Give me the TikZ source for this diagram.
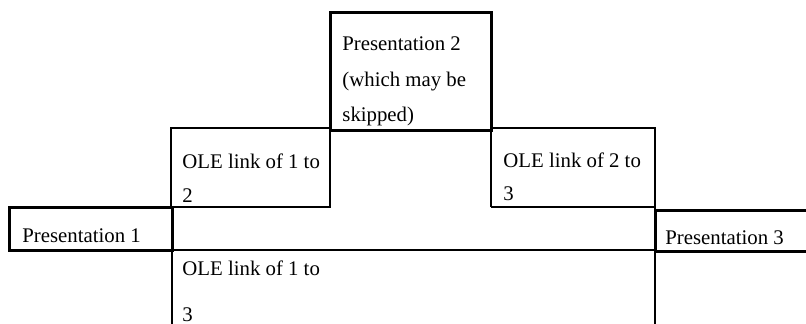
\documentclass[tikz,border=0pt]{standalone}
\usepackage{fontspec}
\setmainfont{Liberation Serif}
\begin{document}
\begin{tikzpicture}[x=0.5pt,y=-0.5pt,
  thickbox/.style={draw=black,line width=1.5pt,rectangle,inner sep=0pt,outer sep=0pt,anchor=north west},
  thinline/.style={draw=black,line width=0.55pt},
  lbl/.style={anchor=base west,inner sep=0pt,font=\fontsize{10.4}{12}\selectfont}]
\useasboundingbox[fill=white] (0,0) rectangle (806,323);
\clip (0,0) rectangle (806,323);
% thin table lines
\coordinate (a1) at (171,128);
\coordinate (a2) at (330,128);
\coordinate (a3) at (171,207);
\coordinate (a4) at (330,207);
\coordinate (b1) at (491,128);
\coordinate (b2) at (655,128);
\coordinate (b3) at (491,207);
\coordinate (b4) at (655,207);
\coordinate (c1) at (172,250);
\coordinate (c2) at (655,250);
\coordinate (c3) at (172,340);
\coordinate (c4) at (655,340);
\draw[thinline] (a2) -- (a1) -- (a3) -- (a4) -- (a2);
\draw[thinline] (b3) -- (b1) -- (b2) -- (b4) -- (b3);
\draw[thinline] (b4) -- (c2);
\draw[thinline] (c3) -- (c1) -- (c2) -- (c4);
% thick boxes
\node[thickbox,minimum width=80.5pt,minimum height=59pt] (p2) at (330,12) {};
\node[thickbox,minimum width=81.5pt,minimum height=21.5pt] (p1) at (9,207) {};
\node[thickbox,minimum width=85pt,minimum height=20.5pt] (p3) at (655,210) {};
% texts
\node[lbl] (t21) at (342,50) {Presentation 2};
\node[lbl] (t22) at (342,86) {(which may be};
\node[lbl] (t23) at (342,121) {skipped)};
\node[lbl] (t121) at (182,168) {OLE link of 1 to};
\node[lbl] (t122) at (182,202) {2};
\node[lbl] (t231) at (503,167) {OLE link of 2 to};
\node[lbl] (t232) at (503,200) {3};
\node[lbl] (t1) at (22,242) {Presentation 1};
\node[lbl] (t3) at (665,244) {Presentation 3};
\node[lbl] (t131) at (182,275) {OLE link of 1 to};
\node[lbl] (t132) at (182,321) {3};
\end{tikzpicture}
\end{document}
